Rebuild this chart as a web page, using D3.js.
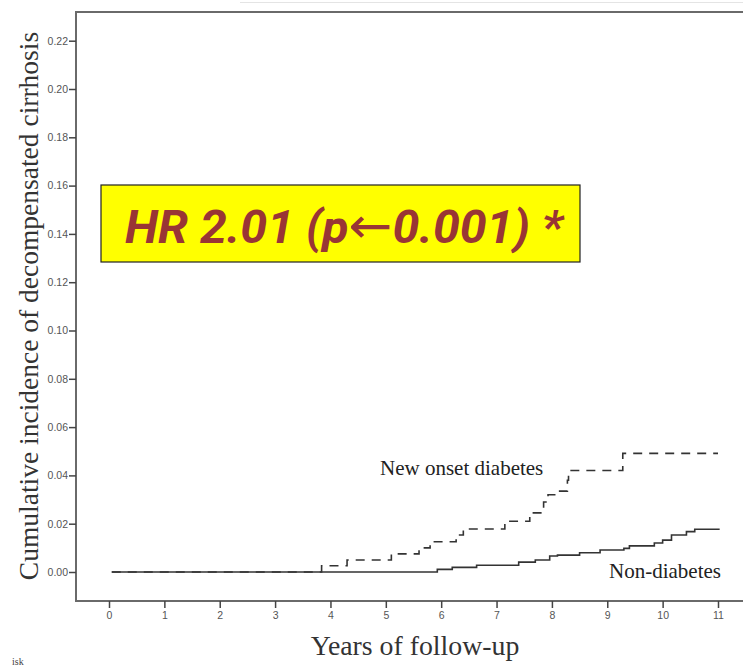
<!DOCTYPE html>
<html>
<head>
<meta charset="utf-8">
<script src="https://cdn.jsdelivr.net/npm/d3@7/dist/d3.min.js"></script>
<style>
  html, body { margin: 0; padding: 0; background: #fff; }
  svg { display: block; }
</style>
</head>
<body>
<svg id="chart" width="743" height="667"></svg>
<script>
// Kaplan-Meier style cumulative incidence, step points (years, incidence)
const nonDiabTimes  = [0.05, 5.93, 6.2, 6.64, 7.4, 7.7, 7.96, 8.1, 8.5, 8.87, 9.3, 9.4, 9.85, 10.0, 10.16, 10.43, 10.58, 11.03];
const nonDiabValues = [0, 0.0011, 0.0019, 0.0028, 0.0041, 0.005, 0.0066, 0.007, 0.008, 0.0091, 0.0098, 0.0108, 0.012, 0.0132, 0.0153, 0.0167, 0.0177, 0.0177];

const newDiabTimes  = [0.05, 3.84, 4.3, 5.1, 5.6, 5.8, 6.27, 6.4, 7.15, 7.6, 7.85, 7.93, 8.14, 8.28, 8.3, 9.28, 11.0];
const newDiabValues = [0, 0.0026, 0.005, 0.0075, 0.010, 0.0125, 0.0153, 0.0178, 0.021, 0.0245, 0.029, 0.032, 0.0335, 0.038, 0.042, 0.0491, 0.0491];

const xTicks = [0, 1, 2, 3, 4, 5, 6, 7, 8, 9, 10, 11];
const yTicks = [0, 0.02, 0.04, 0.06, 0.08, 0.10, 0.12, 0.14, 0.16, 0.18, 0.20, 0.22];

const yTitle = "Cumulative incidence of decompensated cirrhosis";
const xTitle = "Years of follow-up";
const seriesLabels = ["New onset diabetes", "Non-diabetes"];
const hrParts = ["HR 2.01 (p", "\u2190", "0.001) *"];

const svg = d3.select("#chart");

const frame = { left: 76, top: 12, right: 743, bottom: 601 };
const x = d3.scaleLinear().domain([0, 11]).range([109, 718]);
const y = d3.scaleLinear().domain([0, 0.22]).range([572, 40.7]);

// frame lines (left, top, bottom)
const frameColor = "#6a6a6a";
svg.append("path")
  .attr("d", `M${frame.right},${frame.top}H${frame.left}V${frame.bottom}H${frame.right}`)
  .attr("fill", "none").attr("stroke", frameColor).attr("stroke-width", 2);
svg.append("line")
  .attr("x1", 240).attr("x2", 743).attr("y1", 2.5).attr("y2", 2.5)
  .attr("stroke", "#e4e4e4").attr("stroke-width", 1);

const sans = "Liberation Sans, Arial, sans-serif";

// y axis
const yAxis = d3.axisLeft(y).tickValues(yTicks).tickFormat(d3.format(".2f")).tickSize(7).tickPadding(1).tickSizeOuter(0);
const gy = svg.append("g").attr("transform", `translate(${frame.left},0)`).call(yAxis);
gy.select(".domain").remove();
gy.selectAll(".tick line").attr("stroke", "#444").attr("stroke-width", 1.5);
gy.selectAll(".tick text").attr("fill", "#555").attr("font-family", sans).attr("font-size", 10.5);

// x axis
const xAxis = d3.axisBottom(x).tickValues(xTicks).tickFormat(d3.format("d")).tickSize(7).tickPadding(4).tickSizeOuter(0);
const gx = svg.append("g").attr("transform", `translate(0,${frame.bottom})`).call(xAxis);
gx.select(".domain").remove();
gx.selectAll(".tick line").attr("stroke", "#444").attr("stroke-width", 1.5);
gx.selectAll(".tick text").attr("fill", "#555").attr("font-family", sans).attr("font-size", 10.5);

// curves
const line = d3.line().x(d => x(d[0])).y(d => y(d[1])).curve(d3.curveStepAfter);
const nonDiab = nonDiabTimes.map((t, i) => [t, nonDiabValues[i]]);
const newDiab = newDiabTimes.map((t, i) => [t, newDiabValues[i]]);

svg.append("path").datum(nonDiab).attr("d", line)
  .attr("fill", "none").attr("stroke", "#333").attr("stroke-width", 1.6);
svg.append("path").datum(newDiab).attr("d", line)
  .attr("fill", "none").attr("stroke", "#333").attr("stroke-width", 1.6)
  .attr("stroke-dasharray", "9,7");

// series labels
const serif = "Liberation Serif, Times New Roman, serif";
svg.append("text").attr("x", 380).attr("y", 475).text(seriesLabels[0])
  .attr("font-family", serif).attr("font-size", 21).attr("fill", "#222");
svg.append("text").attr("x", 609).attr("y", 578).text(seriesLabels[1])
  .attr("font-family", serif).attr("font-size", 21).attr("fill", "#222");

// axis titles
svg.append("text").attr("transform", "translate(38,306) rotate(-90)")
  .attr("text-anchor", "middle").text(yTitle)
  .attr("font-family", serif).attr("font-size", 27.5).attr("fill", "#333");
svg.append("text").attr("x", 415).attr("y", 655).attr("text-anchor", "middle").text(xTitle)
  .attr("font-family", serif).attr("font-size", 27.8).attr("fill", "#333");

svg.append("text").attr("x", 12).attr("y", 665).text("isk")
  .attr("font-family", serif).attr("font-size", 10).attr("fill", "#444");

// hazard ratio annotation
svg.append("rect").attr("x", 101).attr("y", 185).attr("width", 479).attr("height", 77)
  .attr("fill", "#ffff00").attr("stroke", "#222").attr("stroke-width", 1.2);
const hr = svg.append("text").attr("x", 125).attr("y", 243)
  .attr("font-family", "Roboto, sans-serif").attr("font-style", "italic").attr("font-weight", "bold")
  .attr("font-size", 46).attr("fill", "#993535")
  .attr("textLength", 438).attr("lengthAdjust", "spacingAndGlyphs");
hr.append("tspan").text(hrParts[0]);
hr.append("tspan").text(hrParts[1]).attr("font-family", "DejaVu Sans").attr("font-style", "normal")
  .attr("font-weight", "normal").attr("font-size", 50);
hr.append("tspan").text(hrParts[2]);
</script>
</body>
</html>
